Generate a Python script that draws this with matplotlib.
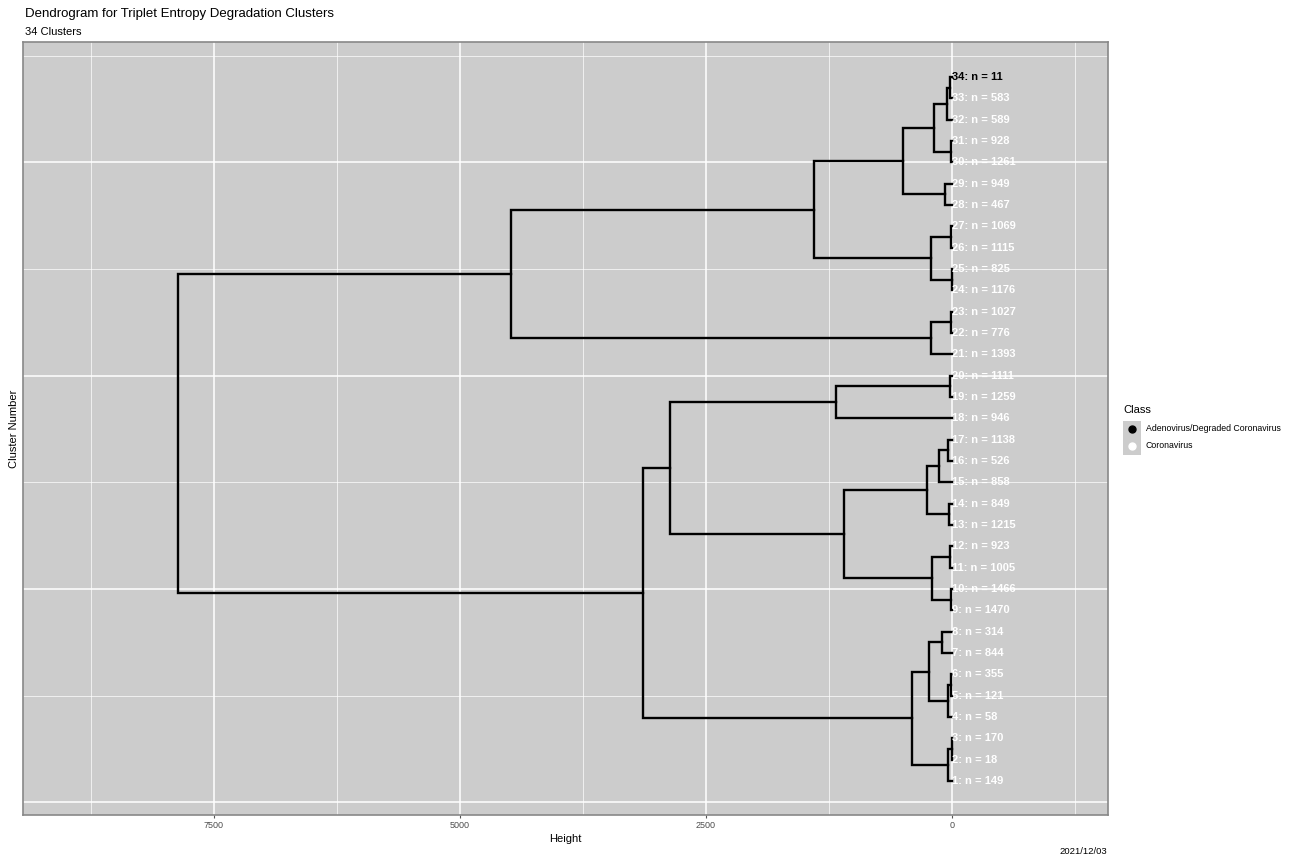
import numpy as np
import matplotlib
matplotlib.use('Agg')
import matplotlib.pyplot as plt
from matplotlib.patches import Rectangle
from matplotlib.lines import Line2D

plt.rcParams['font.family'] = ['Liberation Sans', 'DejaVu Sans']

# leaves, bottom to top
cluster_id = list(range(1, 35))
cluster_n = [149, 18, 170, 58, 121, 355, 844, 314, 1470, 1466,
             1005, 923, 1215, 849, 858, 526, 1138, 946, 1259, 1111,
             1393, 776, 1027, 1176, 825, 1115, 1069, 467, 949, 1261,
             928, 589, 583, 11]
cluster_class = ['Coronavirus'] * 33 + ['Adenovirus/Degraded Coronavirus']

# hclust style merges: negative = leaf, positive = earlier merge step
merge_a = [-33, -32, -30, 2, -28, 4, -26, -24, 7, 6, -22, -21, 10,
           -19, -18, -16, -15, -13, 17, -11, -9, 20, 19, 15,
           -7, -5, -4, 25, -2, -1, 28, 24, 32]
merge_b = [-34, 1, -31, 3, -29, 5, -27, -25, 8, 9, -23, 11, 12,
           -20, 14, -17, 16, -14, 18, -12, -10, 21, 22, 23,
           -8, -6, 26, 27, -3, 29, 30, 31, 13]
merge_h = [20, 54, 10, 183, 71, 498, 15, 5, 217, 1406, 10, 217, 4482,
           20, 1179, 37, 132, 27, 254, 20, 10, 206, 1101, 2866,
           105, 13, 37, 230, 5, 44, 410, 3137, 7866]

class_colors = {'Adenovirus/Degraded Coronavirus': 'black', 'Coronavirus': 'white'}

W, H = 1293, 857
fig = plt.figure(figsize=(W / 100, H / 100), dpi=100)
ax = fig.add_axes([23 / W, (H - 815) / H, (1107.5 - 23) / W, (815 - 42) / H])
ax.set_facecolor('#cccccc')


def pos(node):
    # returns (y, height) of a node
    if node < 0:
        return cluster_id.index(-node) + 1, 0
    ya, _ = pos(merge_a[node - 1])
    yb, _ = pos(merge_b[node - 1])
    return (ya + yb) / 2, merge_h[node - 1]


for i in range(len(merge_h)):
    h = merge_h[i]
    ya, ha = pos(merge_a[i])
    yb, hb = pos(merge_b[i])
    ax.plot([ha, h, h, hb], [ya, ya, yb, yb], color='black', lw=1.7,
            solid_joinstyle='miter', zorder=3)

for i, (c, n, cl) in enumerate(zip(cluster_id, cluster_n, cluster_class)):
    ax.text(0, i + 1, '%d: n = %d' % (c, n), color=class_colors[cl],
            fontsize=8, fontweight='bold', ha='left', va='center', zorder=4)

ax.set_xlim(9441, -1580)
ax.set_ylim(-0.594, 35.64)
ax.set_xticks([7500, 5000, 2500, 0])
ax.set_xticks([8750, 6250, 3750, 1250, -1250], minor=True)
ax.set_yticks([0, 10, 20, 30])
ax.set_yticks([5, 15, 25, 35], minor=True)
ax.grid(which='major', color='white', lw=1.1, zorder=0)
ax.grid(which='minor', color='white', lw=0.6, alpha=0.8, zorder=0)
ax.set_axisbelow(True)
ax.tick_params(axis='x', which='major', length=2.5, width=0.8, color='#555555',
               labelsize=6.5, labelcolor='#4d4d4d', pad=2)
ax.tick_params(axis='x', which='minor', length=0)
ax.tick_params(axis='y', which='both', length=0, labelleft=False)
for s in ax.spines.values():
    s.set_color('#888888')
    s.set_linewidth(1.2)

ax.set_xlabel('Height', fontsize=8, labelpad=3)
fig.text(14 / W, 1 - 429 / H, 'Cluster Number', rotation=90, fontsize=8,
         ha='center', va='center')

fig.text(25 / W, 1 - 14 / H, 'Dendrogram for Triplet Entropy Degradation Clusters',
         fontsize=9.5, ha='left', va='center')
fig.text(25 / W, 1 - 32 / H, '34 Clusters', fontsize=8, ha='left', va='center')
fig.text(1107 / W, 1 - 852 / H, '2021/12/03', fontsize=6.8, ha='right', va='center')

# legend
fig.text(1123 / W, 1 - 410 / H, 'Class', fontsize=8, ha='left', va='center')
leg_labels = ['Adenovirus/Degraded Coronavirus', 'Coronavirus']
for k, lab in enumerate(leg_labels):
    yc = 429 + 17 * k
    fig.add_artist(Rectangle((1123 / W, 1 - (yc + 8.5) / H), 17.5 / W, 17 / H,
                             transform=fig.transFigure, facecolor='#cccccc',
                             edgecolor='none'))
    fig.add_artist(Line2D([1131.7 / W], [1 - yc / H], transform=fig.transFigure,
                          marker='o', markersize=5, color=class_colors[lab],
                          linestyle='none'))
    fig.text(1146 / W, 1 - yc / H, lab, fontsize=6.3, ha='left', va='center')

fig.savefig('out.png', dpi=100)
